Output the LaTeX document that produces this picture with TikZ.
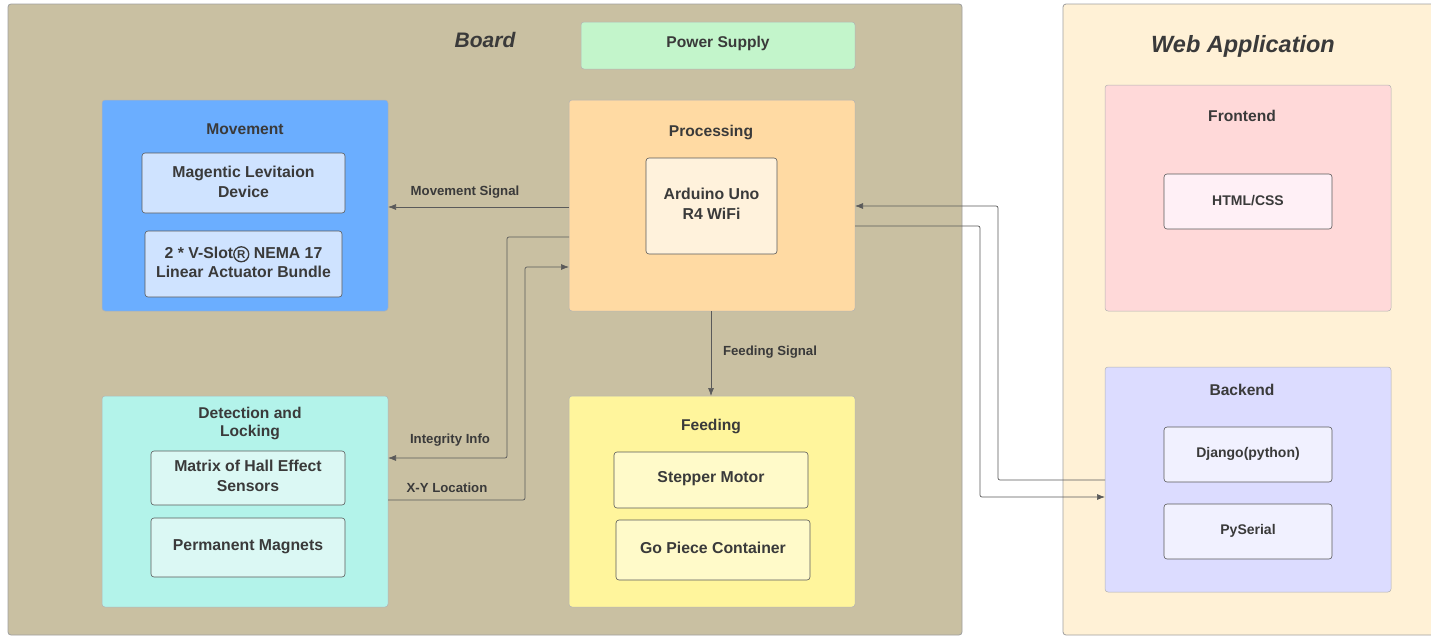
\documentclass[tikz,border=0pt]{standalone}
\usepackage{fontspec}
\setmainfont{Liberation Sans}
\usetikzlibrary{arrows.meta}
\definecolor{boardc}{HTML}{C9C0A2}
\definecolor{webc}{HTML}{FFF1D6}
\definecolor{powc}{HTML}{C3F5CB}
\definecolor{movc}{HTML}{6BAEFF}
\definecolor{movin}{HTML}{CFE3FF}
\definecolor{proc}{HTML}{FFDAA3}
\definecolor{procin}{HTML}{FFF2DC}
\definecolor{detc}{HTML}{B3F3EA}
\definecolor{detin}{HTML}{DBF8F4}
\definecolor{feedc}{HTML}{FFF59C}
\definecolor{feedin}{HTML}{FFFAC9}
\definecolor{frontc}{HTML}{FFD9D9}
\definecolor{frontin}{HTML}{FFF0F6}
\definecolor{backc}{HTML}{DCDCFF}
\definecolor{backin}{HTML}{F1F1FF}
\definecolor{txt}{HTML}{3A3A3A}
\definecolor{linec}{HTML}{5A5A5A}
\newcommand\regmark{\tikz[baseline=(rr.base)]\node[circle,draw=txt,line width=1.3pt,inner sep=0.4pt,minimum size=15pt,font=\bfseries\fontsize{11.5}{12}\selectfont] (rr) {R};}
\tikzset{
  every node/.style={text=txt,font=\bfseries},
  region/.style={draw=gray!75,line width=0.8pt,rounded corners=3pt},
  group/.style={draw=gray!60,line width=0.5pt,rounded corners=3pt},
  inbox/.style={draw=linec,line width=0.6pt,rounded corners=3pt},
  ttl/.style={font=\bfseries\fontsize{15.6}{18}\selectfont,align=center},
  btxt/.style={font=\bfseries\fontsize{15.8}{19.5}\selectfont,align=center},
  stxt/.style={font=\bfseries\fontsize{14}{17}\selectfont,align=center},
  lbl/.style={font=\bfseries\fontsize{13.2}{16}\selectfont},
  big/.style={font=\bfseries\itshape\fontsize{21}{25}\selectfont},
  bigw/.style={font=\bfseries\itshape\fontsize{23.5}{27}\selectfont},
  conn/.style={draw=linec,line width=0.7pt,rounded corners=2pt,-{Latex[length=8pt,width=6pt]}},
}
\begin{document}
\begin{tikzpicture}[x=1pt,y=-1pt]
\useasboundingbox (0,0) rectangle (1431,637);
\fill[white] (0,0) rectangle (1431,637);
% regions
\path[region,fill=boardc] (8,4) rectangle (962,635);
\path[region,fill=webc] (1063,4) rectangle (1440,635);
\node[big] (boardt) at (485,40) {Board};
\node[bigw] (webt) at (1243,46) {Web Application};
% power
\path[group,fill=powc] (581,22) rectangle (855,69);
\node[ttl] (pow) at (718,43) {Power Supply};
% movement
\path[group,fill=movc] (102,100) rectangle (388,311);
\coordinate (movR) at (388,207);
\node[ttl] (movt) at (245,129) {Movement};
\path[inbox,fill=movin] (142,153) rectangle (345,213);
\node[btxt] (mag) at (243.5,182) {Magentic Levitaion\\Device};
\path[inbox,fill=movin] (145,231) rectangle (342,297);
\node[btxt] (vs) at (243.5,262) {2 * V-Slot\regmark{} NEMA 17\\Linear Actuator Bundle};
% processing
\path[group,fill=proc] (569,100) rectangle (855,311);
\node[ttl] (proct) at (711,132) {Processing};
\path[inbox,fill=procin] (646,158) rectangle (777,254);
\node[btxt] (ard) at (711.5,204) {Arduino Uno\\R4 WiFi};
% detection
\path[group,fill=detc] (102,396) rectangle (388,607);
\node[ttl] (dett) at (250,423) {Detection and\\Locking};
\path[inbox,fill=detin] (151,451) rectangle (345,505);
\node[btxt] (hall) at (248,476) {Matrix of Hall Effect\\Sensors};
\path[inbox,fill=detin] (151,518) rectangle (345,577);
\node[btxt] (perm) at (248,547) {Permanent Magnets};
% feeding
\path[group,fill=feedc] (569,396) rectangle (855,607);
\node[ttl] (feedt) at (711,426) {Feeding};
\path[inbox,fill=feedin] (614,452) rectangle (808,508);
\node[btxt] (step) at (711,479) {Stepper Motor};
\path[inbox,fill=feedin] (616,520) rectangle (810,580);
\node[btxt] (gpc) at (713,548) {Go Piece Container};
% frontend
\path[group,fill=frontc] (1105,85) rectangle (1391,311);
\node[ttl] (frontt) at (1242,116) {Frontend};
\path[inbox,fill=frontin] (1164,174) rectangle (1332,229);
\node[stxt] (html) at (1248,201) {HTML/CSS};
% backend
\path[group,fill=backc] (1105,367) rectangle (1391,592);
\node[ttl] (backt) at (1242,390) {Backend};
\path[inbox,fill=backin] (1164,427) rectangle (1332,482);
\node[stxt] (dj) at (1248,454) {Django(python)};
\path[inbox,fill=backin] (1164,504) rectangle (1332,559);
\node[stxt] (pys) at (1248,531) {PySerial};
% anchor coordinates
\coordinate (procL1) at (569,207);
\coordinate (procL2) at (569,237);
\coordinate (procL3) at (569,267);
\coordinate (detR1) at (388,458);
\coordinate (detR2) at (388,500);
\coordinate (procB) at (711,311);
\coordinate (feedT) at (711,396);
\coordinate (procR1) at (855,206);
\coordinate (procR2) at (855,226);
\coordinate (backL1) at (1105,480);
\coordinate (backL2) at (1105,497);
% connectors
\draw[conn] (procL1) -- (movR);
\node[lbl] (ms) at (465,192.5) {Movement Signal};
\draw[conn] (procL2) -| (507,458) -- (detR1);
\node[lbl] (ii) at (450,440) {Integrity Info};
\draw[conn] (detR2) -| (525,267) -- (procL3);
\node[lbl] (xy) at (447,488) {X-Y Location};
\draw[conn] (procB) -- (feedT);
\node[lbl] (fs) at (770,352) {Feeding Signal};
\draw[conn] (backL1) -| (998,206) -- (procR1);
\draw[conn] (procR2) -| (980,497) -- (backL2);
\end{tikzpicture}
\end{document}
